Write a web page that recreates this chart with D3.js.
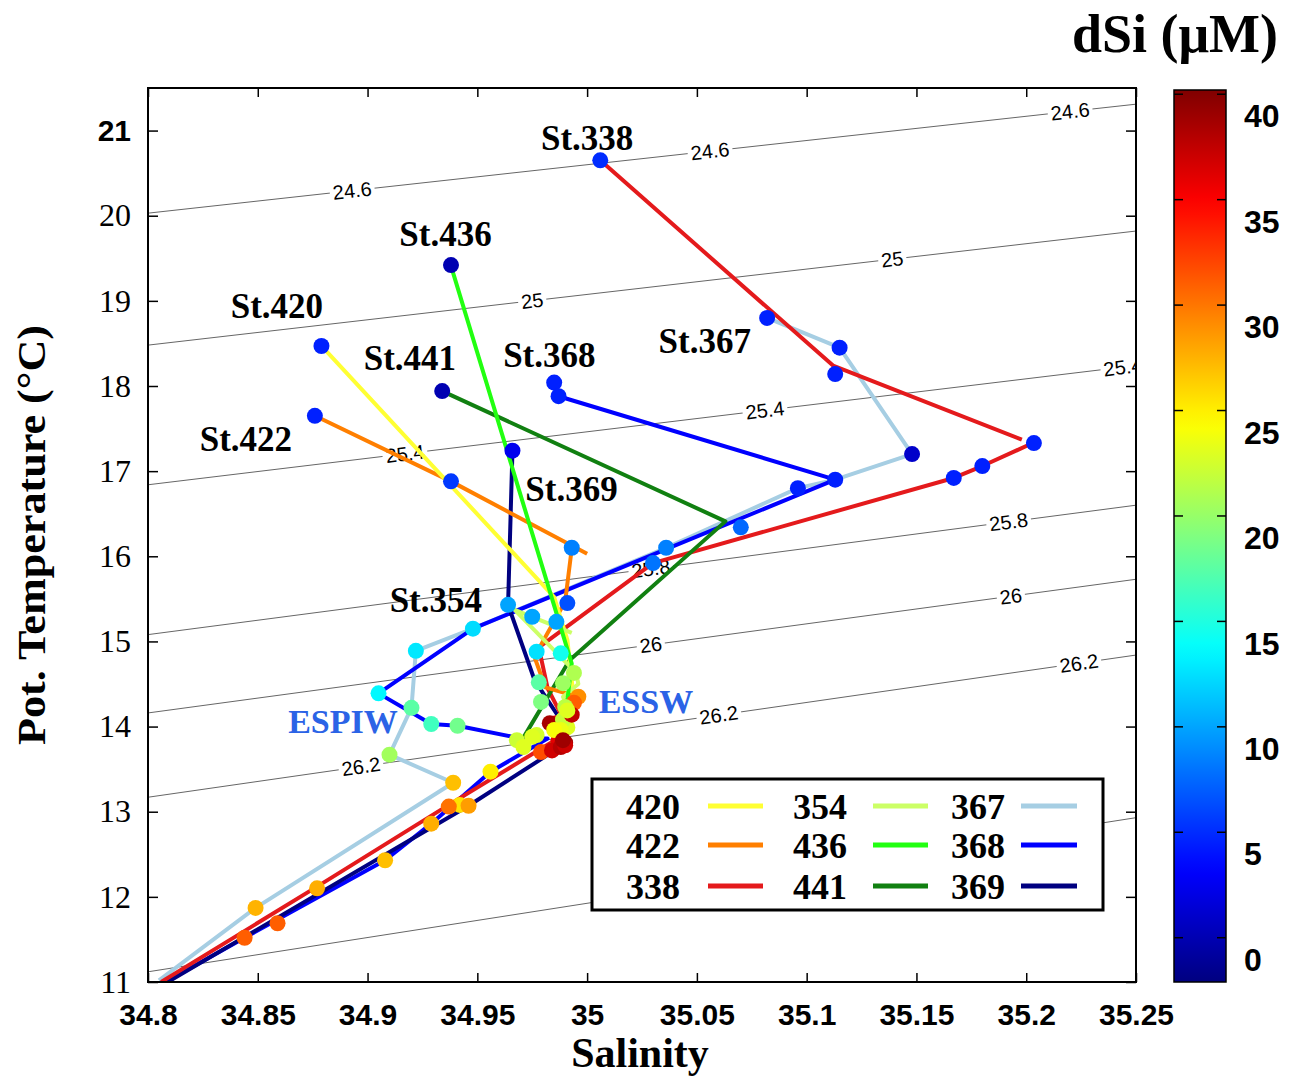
<!DOCTYPE html>
<html>
<head>
<meta charset="utf-8">
<script src="https://cdn.jsdelivr.net/npm/d3@7"></script>
<style>
  body { margin: 0; background: #fff; }
  svg { display: block; }
</style>
</head>
<body>
<script>
// Axis ticks
var salTicks = [34.8, 34.85, 34.9, 34.95, 35, 35.05, 35.1, 35.15, 35.2, 35.25];
var tempTicks = [11, 12, 13, 14, 15, 16, 17, 18, 19, 20, 21];
var dsiTicks = [0, 5, 10, 15, 20, 25, 30, 35, 40];

// Isopycnals (sigma-theta), temperature read where they meet S = 34.8 and S = 35.25
var isoLevels = [24.6, 25, 25.4, 25.8, 26, 26.2, 26.6];
var isoTLeft = [20.03, 18.48, 16.84, 15.08, 14.16, 13.17, 11.12];
var isoTRight = [21.31, 19.82, 18.24, 16.60, 15.73, 14.84, 12.93];
var isoLabelS = [
  [34.893, 35.056, 35.220],
  [34.975, 35.139],
  [34.917, 35.081, 35.244],
  [35.029, 35.192],
  [35.029, 35.193],
  [34.897, 35.060, 35.224],
  []
];

// Stations, in legend order (column by column)
var stations = ["420", "422", "338", "354", "436", "441", "367", "368", "369"];
var stationColors = ["#ffff33", "#ff7f00", "#e41a1c", "#ccff66", "#22ff11", "#118011", "#a6cee3", "#0000ff", "#000080"];

// CTD traces: [salinity, pot. temperature], null = gap
var line420 = [[34.879, 18.47], [34.985, 15.52], [34.991, 15.02], [34.994, 14.31], [34.990, 13.96], [34.993, 14.14]];
var line422 = [[34.876, 17.65], [34.938, 16.88], [35.000, 16.03], null, [34.993, 16.09], [34.990, 15.47], [34.976, 14.82], [34.981, 14.46], [34.996, 14.35], [34.990, 14.05], [34.985, 13.85]];
var line338 = [[35.006, 20.65], [35.112, 18.24], [35.198, 17.37], null, [35.203, 17.33], [35.180, 17.06], [35.167, 16.92], [35.030, 15.92], [34.978, 14.93], [34.982, 14.45], [34.989, 14.10], [34.986, 13.85], [34.979, 13.74], [34.937, 13.08], [34.877, 12.12], [34.806, 11.0]];
var line354 = [[34.993, 15.10], [34.967, 15.37], [34.995, 14.63], [34.996, 14.50], [34.989, 14.35], [34.993, 14.15], [34.986, 13.93], [34.990, 13.78]];
var line436 = [[34.936, 19.42], [34.938, 19.41], [34.993, 14.74], [34.991, 14.31], [34.986, 13.95], [34.984, 13.78], [34.990, 13.98], [34.993, 14.17]];
var line441 = [[34.934, 17.94], [35.063, 16.41], [34.992, 14.78], [34.971, 13.87]];
var line367 = [[35.082, 18.80], [35.115, 18.45], [35.148, 17.20], [35.113, 16.90], [35.096, 16.80], [35.036, 16.10], [34.948, 15.15], [34.922, 14.89], [34.920, 14.22], [34.910, 13.67], [34.939, 13.34], [34.849, 11.87], [34.805, 11.02]];
var line368 = [[34.985, 18.04], [34.987, 17.88], [35.113, 16.90], [34.948, 15.15], [34.905, 14.39], [34.929, 14.03], [34.941, 14.01], [34.970, 13.86], [34.982, 13.86], [34.956, 13.47], [34.929, 12.86], [34.908, 12.43], [34.844, 11.52], [34.808, 11.0]];
var line369 = [[34.966, 17.24], [34.964, 15.43], [34.976, 14.55], [34.982, 14.31], [34.988, 14.08], [34.989, 13.84], [34.984, 13.70], [34.946, 13.07], [34.809, 11.0]];

// Bottle samples: [salinity, pot. temperature, dSi]
var dots420 = [[34.879, 18.47, 4.5], [34.989, 14.08, 22], [34.988, 13.96, 23.5], [34.993, 14.14, 37.5]];
var dots422 = [[34.876, 17.65, 4.5], [34.938, 16.88, 5.5], [34.993, 16.10, 8.5], [34.991, 15.45, 6.5], [34.986, 15.23, 10], [34.977, 14.88, 12.5], [34.996, 14.35, 29], [34.994, 14.28, 31], [34.991, 13.99, 23]];
var dots338 = [[35.006, 20.65, 5], [35.113, 18.14, 4.5], [35.2035, 17.33, 4.5], [35.180, 17.06, 4.5], [35.167, 16.92, 4.5], [35.030, 15.92, 8], [34.986, 14.04, 36.2], [34.987, 13.84, 36], [34.984, 13.72, 36.8], [34.937, 13.06, 30.2], [34.877, 12.10, 27.7], [34.859, 11.69, 31]];
var dots354 = [[34.975, 15.29, 10], [34.994, 14.63, 21], [34.989, 14.51, 20.3], [34.990, 14.23, 21.5], [34.971, 13.76, 23], [34.990, 13.78, 37]];
var dots436 = [[34.938, 19.42, 0], [34.991, 14.19, 23], [34.985, 13.96, 24], [34.989, 13.84, 38.9]];
var dots441 = [[34.934, 17.94, 0], [35.070, 16.34, 7.5], [34.988, 14.86, 14.5], [34.975, 13.88, 23], [34.968, 13.84, 22.2], [34.983, 14.04, 38.5], [34.988, 13.76, 38]];
var dots367 = [[35.082, 18.80, 4.5], [35.115, 18.45, 4.5], [35.148, 17.20, 1], [35.096, 16.80, 4.5], [35.036, 16.10, 8.5], [34.948, 15.15, 12.3], [34.922, 14.89, 12.8], [34.920, 14.22, 17.5], [34.910, 13.67, 20.5], [34.939, 13.34, 27], [34.849, 11.87, 27.5]];
var dots368 = [[34.985, 18.04, 4.5], [34.987, 17.88, 4.5], [35.113, 16.90, 4.5], [34.905, 14.39, 13.5], [34.929, 14.03, 16.4], [34.941, 14.01, 18.5], [34.990, 13.81, 38.5], [34.956, 13.47, 25], [34.942, 13.08, 25.5], [34.929, 12.86, 27.7], [34.908, 12.43, 27], [34.844, 11.52, 31]];
var dots369 = [[34.966, 17.24, 2.5], [34.964, 15.43, 10], [34.978, 14.52, 17.5], [34.979, 14.29, 19], [34.977, 13.90, 22.5], [34.979, 13.70, 31.7], [34.946, 13.07, 28.4]];

// Station name annotations, placed in data units
var stLabels = ["St.338", "St.436", "St.420", "St.441", "St.368", "St.422", "St.369", "St.367", "St.354"];
var stLabelS = [35.000, 34.9355, 34.8587, 34.9193, 34.9828, 34.8446, 34.9929, 35.0536, 34.9311];
var stLabelT = [20.77, 19.645, 18.80, 18.19, 18.22, 17.24, 16.65, 18.39, 15.35];

// Water mass annotations
var wmLabels = ["ESPIW", "ESSW"];
var wmS = [34.8888, 35.0268];
var wmT = [13.92, 14.16];

var traces = {"420": line420, "422": line422, "338": line338, "354": line354, "436": line436,
  "441": line441, "367": line367, "368": line368, "369": line369};
var samples = {"420": dots420, "422": dots422, "338": dots338, "354": dots354, "436": dots436,
  "441": dots441, "367": dots367, "368": dots368, "369": dots369};
var drawOrder = ["367", "368", "369", "338", "441", "422", "420", "354", "436"];

var serif = "'Liberation Serif', 'Times New Roman', serif";
var sans = "'Liberation Sans', Arial, sans-serif";

var width = 1297, height = 1077;
var plot = {left: 148, right: 1136, top: 88, bottom: 982};

var x = d3.scaleLinear().domain([34.8, 35.25]).range([plot.left, plot.right]);
var y = d3.scaleLinear().domain([11, 21.5]).range([plot.bottom, plot.top]);

// jet colormap
function jet(t) {
  t = Math.max(0, Math.min(1, t));
  var c = function (v) { return Math.round(255 * Math.max(0, Math.min(1, v))); };
  return d3.rgb(c(1.5 - Math.abs(4 * t - 3)), c(1.5 - Math.abs(4 * t - 2)), c(1.5 - Math.abs(4 * t - 1))).formatHex();
}
var cDomain = [-2.1, 40.2];
var color = function (v) { return jet((v - cDomain[0]) / (cDomain[1] - cDomain[0])); };

var svg = d3.select("body").append("svg")
  .attr("width", width)
  .attr("height", height);

svg.append("defs").append("clipPath").attr("id", "plotclip")
  .append("rect")
  .attr("x", plot.left).attr("y", plot.top)
  .attr("width", plot.right - plot.left).attr("height", plot.bottom - plot.top);

var inner = svg.append("g").attr("clip-path", "url(#plotclip)");

// isopycnals
var isoAngle = function (i) {
  return Math.atan2(y(isoTRight[i]) - y(isoTLeft[i]), x(35.25) - x(34.8)) * 180 / Math.PI;
};
isoLevels.forEach(function (lev, i) {
  inner.append("line")
    .attr("x1", x(34.8)).attr("y1", y(isoTLeft[i]))
    .attr("x2", x(35.25)).attr("y2", y(isoTRight[i]))
    .attr("stroke", "#666")
    .attr("stroke-width", 1);
  isoLabelS[i].forEach(function (s) {
    var t = isoTLeft[i] + (isoTRight[i] - isoTLeft[i]) * (s - 34.8) / 0.45;
    var g = inner.append("g")
      .attr("transform", "translate(" + x(s) + "," + y(t) + ") rotate(" + isoAngle(i) + ")");
    var txt = g.append("text")
      .attr("text-anchor", "middle")
      .attr("dy", "0.35em")
      .style("font-family", sans)
      .style("font-size", "20px")
      .text(lev);
    var w = txt.node().getComputedTextLength();
    g.insert("rect", "text")
      .attr("x", -w / 2 - 3).attr("y", -9)
      .attr("width", w + 6).attr("height", 18)
      .attr("fill", "#fff");
  });
});

// station traces
var lineGen = d3.line()
  .defined(function (d) { return d !== null; })
  .x(function (d) { return x(d[0]); })
  .y(function (d) { return y(d[1]); });

drawOrder.forEach(function (st) {
  inner.append("path")
    .datum(traces[st])
    .attr("d", lineGen)
    .attr("fill", "none")
    .attr("stroke", stationColors[stations.indexOf(st)])
    .attr("stroke-width", 4)
    .attr("stroke-linejoin", "round");
});

drawOrder.forEach(function (st) {
  inner.selectAll(".dot" + st)
    .data(samples[st])
    .enter().append("circle")
    .attr("class", "dot" + st)
    .attr("cx", function (d) { return x(d[0]); })
    .attr("cy", function (d) { return y(d[1]); })
    .attr("r", 8)
    .attr("fill", function (d) { return color(d[2]); });
});

// station labels
stLabels.forEach(function (lab, i) {
  svg.append("text")
    .attr("x", x(stLabelS[i]))
    .attr("y", y(stLabelT[i]))
    .attr("text-anchor", "middle")
    .style("font-family", serif)
    .style("font-weight", "bold")
    .style("font-size", "35px")
    .text(lab);
});

wmLabels.forEach(function (lab, i) {
  svg.append("text")
    .attr("x", x(wmS[i]))
    .attr("y", y(wmT[i]))
    .attr("text-anchor", "middle")
    .attr("fill", "#2b63e6")
    .style("font-family", serif)
    .style("font-weight", "bold")
    .style("font-size", "34px")
    .text(lab);
});

// axes
var fmt = function (d) { return String(+d.toFixed(2)); };

var gx = svg.append("g")
  .attr("transform", "translate(0," + plot.bottom + ")")
  .call(d3.axisBottom(x).tickValues(salTicks).tickSize(-9).tickPadding(22).tickFormat(fmt));
gx.select(".domain").remove();
gx.selectAll("text")
  .style("font-family", sans)
  .style("font-weight", "bold")
  .style("font-size", "30px")
  .attr("fill", "#000");

var gxt = svg.append("g")
  .attr("transform", "translate(0," + plot.top + ")")
  .call(d3.axisTop(x).tickValues(salTicks).tickSize(-9).tickFormat(""));
gxt.select(".domain").remove();

var gy = svg.append("g")
  .attr("transform", "translate(" + plot.left + ",0)")
  .call(d3.axisLeft(y).tickValues(tempTicks).tickSize(-10).tickPadding(17));
gy.select(".domain").remove();
gy.selectAll("text")
  .style("font-family", function (d) { return d === 21 ? sans : serif; })
  .style("font-weight", function (d) { return d === 21 ? "bold" : "normal"; })
  .style("font-size", function (d) { return d === 21 ? "30px" : "32px"; })
  .attr("fill", "#000");

var gyr = svg.append("g")
  .attr("transform", "translate(" + plot.right + ",0)")
  .call(d3.axisRight(y).tickValues(tempTicks).tickSize(-10).tickFormat(""));
gyr.select(".domain").remove();

svg.selectAll(".tick line").attr("stroke", "#000").attr("stroke-width", 1.5);

svg.append("rect")
  .attr("x", plot.left).attr("y", plot.top)
  .attr("width", plot.right - plot.left).attr("height", plot.bottom - plot.top)
  .attr("fill", "none")
  .attr("stroke", "#000")
  .attr("stroke-width", 2);

// axis titles
svg.append("text")
  .attr("x", 640).attr("y", 1067)
  .attr("text-anchor", "middle")
  .style("font-family", serif)
  .style("font-weight", "bold")
  .style("font-size", "42px")
  .text("Salinity");

svg.append("text")
  .attr("transform", "translate(45,535) rotate(-90)")
  .attr("text-anchor", "middle")
  .attr("textLength", 420)
  .attr("lengthAdjust", "spacingAndGlyphs")
  .style("font-family", serif)
  .style("font-weight", "bold")
  .style("font-size", "40px")
  .text("Pot. Temperature (°C)");

// legend
var legCols = [[653, 708, 763], [820, 873, 928], [978, 1021, 1077]];
var legRows = [806, 845, 886];
svg.append("rect")
  .attr("x", 592).attr("y", 779)
  .attr("width", 511).attr("height", 131)
  .attr("fill", "#fff")
  .attr("stroke", "#000")
  .attr("stroke-width", 3);
stations.forEach(function (st, i) {
  var col = legCols[Math.floor(i / 3)], row = legRows[i % 3];
  svg.append("text")
    .attr("x", col[0]).attr("y", row)
    .attr("dy", "0.35em")
    .attr("text-anchor", "middle")
    .style("font-family", serif)
    .style("font-weight", "bold")
    .style("font-size", "36px")
    .text(st);
  svg.append("line")
    .attr("x1", col[1]).attr("x2", col[2])
    .attr("y1", row).attr("y2", row)
    .attr("stroke", stationColors[i])
    .attr("stroke-width", 5);
});

// colour bar
var cb = {x: 1174, w: 52, top: 90, bottom: 982};
var cy = d3.scaleLinear().domain(cDomain).range([cb.bottom, cb.top]);
var grad = svg.select("defs").append("linearGradient")
  .attr("id", "jetgrad")
  .attr("x1", 0).attr("x2", 0).attr("y1", 1).attr("y2", 0);
d3.range(0, 1.0001, 0.02).forEach(function (t) {
  grad.append("stop").attr("offset", t).attr("stop-color", jet(t));
});
svg.append("rect")
  .attr("x", cb.x).attr("y", cb.top)
  .attr("width", cb.w).attr("height", cb.bottom - cb.top)
  .attr("fill", "url(#jetgrad)")
  .attr("stroke", "#000")
  .attr("stroke-width", 1.5);
dsiTicks.forEach(function (v) {
  svg.append("line")
    .attr("x1", cb.x).attr("x2", cb.x + 9)
    .attr("y1", cy(v)).attr("y2", cy(v))
    .attr("stroke", "#000").attr("stroke-width", 1.5);
  svg.append("line")
    .attr("x1", cb.x + cb.w - 9).attr("x2", cb.x + cb.w)
    .attr("y1", cy(v)).attr("y2", cy(v))
    .attr("stroke", "#000").attr("stroke-width", 1.5);
  svg.append("text")
    .attr("x", 1244).attr("y", cy(v) + 22)
    .attr("dy", "0.35em")
    .style("font-family", sans)
    .style("font-weight", "bold")
    .style("font-size", "32px")
    .text(v);
});

svg.append("text")
  .attr("x", 1278).attr("y", 52)
  .attr("text-anchor", "end")
  .style("font-family", serif)
  .style("font-weight", "bold")
  .style("font-size", "54px")
  .text("dSi (μM)");
</script>
</body>
</html>
